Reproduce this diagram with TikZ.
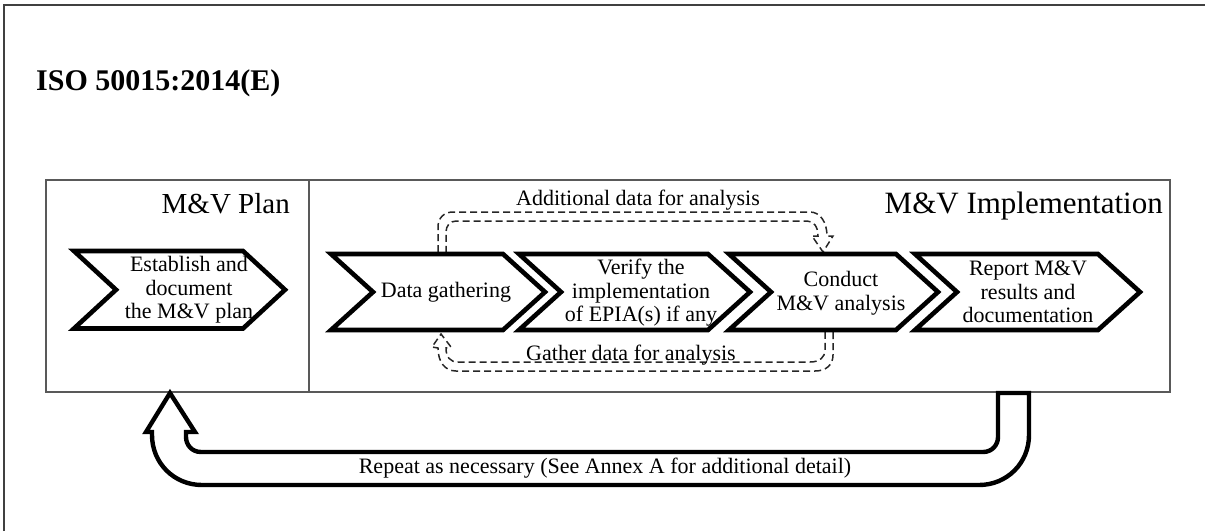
\documentclass[tikz,border=0pt]{standalone}
\usepackage{fontspec}
\setmainfont{Liberation Serif}
\newcommand\chevshape[5]{%
  \draw[chev] (#1,#3) -- ({#2-#5},#3) -- (#2,{(#3+#4)/2}) -- ({#2-#5},#4) -- (#1,#4) -- ({#1+#5},{(#3+#4)/2}) -- cycle;}
\begin{document}
\begin{tikzpicture}[x=1pt,y=-1pt,
  chev/.style={draw=black,line width=4.6pt,fill=white,line join=miter},
  body/.style={align=center,inner sep=0pt,text=black,font=\fontsize{22}{23.5}\selectfont},
  frameline/.style={draw=black!75,line width=2pt},
  boxline/.style={draw=black!65,line width=1.2pt},
  dasharrow/.style={draw=black!85,line width=1.5pt,dash pattern=on 7pt off 4pt},
  bigarrow/.style={draw=black,line width=4.4pt,fill=white,line join=miter}]
\useasboundingbox (0,0) rectangle (1205,531);
% outer frame (top and left only)
\draw[frameline] (4,531) -- (4,5) -- (1205,5);
\node[anchor=base west,inner sep=0pt,text=black,font=\bfseries\fontsize{30}{31}\selectfont] (title) at (36,90) {ISO 50015:2014(E)};
% panels
\draw[boxline] (46,180) rectangle (1170,392);
\draw[boxline] (309,180) -- (309,392);
\node[anchor=base east,inner sep=0pt,text=black,font=\fontsize{29}{30}\selectfont] (plantitle) at (290,213) {M\&V Plan};
\node[anchor=base east,inner sep=0pt,text=black,font=\fontsize{31}{32}\selectfont] (impltitle) at (1163,213) {M\&V Implementation};
% dashed hollow arrows
\draw[dasharrow] (438,252) -- (438,227) .. controls (438,218) and (444,212) .. (453,212) -- (810,212)
  .. controls (820,212) and (827,222) .. (827,236) -- (833,236) -- (823,252) -- (812,236) -- (818,236)
  .. controls (818,227) and (814,221) .. (807,221) -- (456,221) .. controls (450,221) and (446,226) .. (446,232) -- (446,252);
\draw[dasharrow] (833,332) -- (833,355) .. controls (833,365) and (826,371) .. (815,371) -- (456,371)
  .. controls (445,371) and (438,362) .. (438,348) -- (432,347) -- (441,334) -- (451,347) -- (446,348)
  .. controls (446,357) and (450,362) .. (458,362) -- (810,362) .. controls (820,362) and (825,357) .. (825,350) -- (825,332);
\node[body,anchor=base] (addl) at (638,205) {Additional data for analysis};
\node[body,anchor=base] (gath) at (631,360) {Gather data for analysis};
% chevrons
\chevshape{74}{285}{251}{328.5}{42}
\chevshape{331}{545}{254}{330}{42}
\chevshape{519}{750}{254}{330}{42}
\chevshape{729}{938}{254}{330}{42}
\chevshape{915}{1140}{254}{330}{42}
\node[body] (plan) at (189,290) {Establish and\\document\\the M\&V plan};
\node[body] (data) at (446,292) {Data gathering};
\node[body] (verify) at (641,293) {Verify the\\implementation\\of EPIA(s) if any};
\node[body] (conduct) at (841,293) {Conduct\\M\&V analysis};
\node[body] (report) at (1028,292) {Report M\&V\\results and\\documentation};
% big U-turn arrow
\draw[bigarrow] (170,393) -- (195,432) -- (186,432) -- (186,437)
  .. controls (186,445) and (192,452) .. (201,452) -- (983,452)
  .. controls (992,452) and (998,445) .. (998,437) -- (998,393) -- (1029,393) -- (1029,435)
  .. controls (1029,463) and (1007,485) .. (979,485) -- (202,485)
  .. controls (174,485) and (152,463) .. (152,435) -- (152,432) -- (146,432) -- cycle;
\node[body,anchor=base] (repeat) at (605,473) {Repeat as necessary (See Annex A for additional detail)};
\end{tikzpicture}
\end{document}
